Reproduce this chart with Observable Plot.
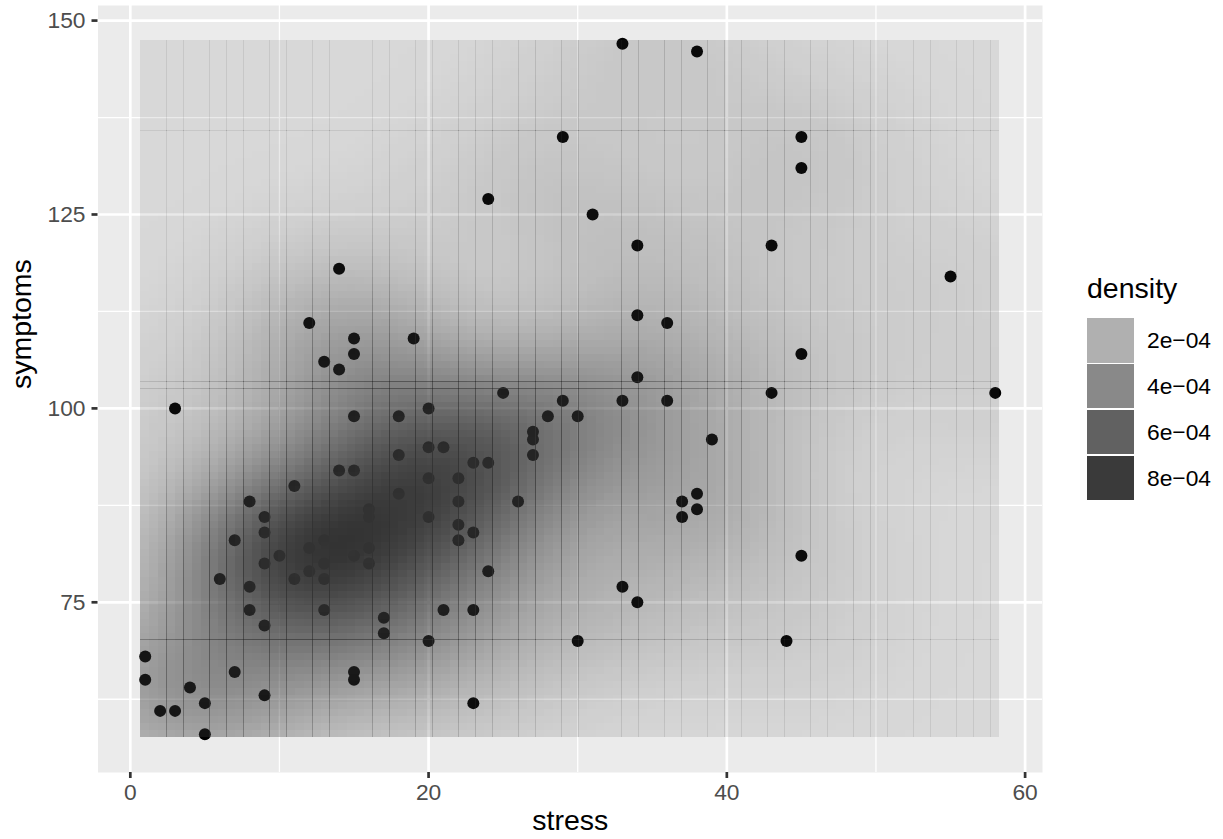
<!DOCTYPE html>
<html>
<head>
<meta charset="utf-8">
<script src="https://cdn.jsdelivr.net/npm/d3@7"></script>
<script src="https://cdn.jsdelivr.net/npm/@observablehq/plot@0.6"></script>
<style>
  body { margin: 0; background: #ffffff; font-family: "Liberation Sans", Arial, Helvetica, sans-serif; }
  #wrap { position: relative; width: 1223px; height: 839px; }
  #legend { position: absolute; left: 1087px; top: 270px; color: #000; }
  #legend .title { position: absolute; left: 0; top: 0; font-size: 28.5px; line-height: 36px; white-space: nowrap; }
  #legend .key { position: absolute; left: 0; width: 46.5px; height: 44.3px; background: #ebebeb; }
  #legend .key div { width: 100%; height: 100%; background: #333333; }
  #legend .lab { position: absolute; left: 60px; font-size: 22.8px; line-height: 44.3px; white-space: nowrap; }
</style>
</head>
<body>
<div id="wrap"></div>
<script>
// Observations: stress score and symptom score per respondent
const stress = [
  14, 12, 15, 19, 15, 13, 14, 3, 15, 18, 18, 14, 15, 11, 18, 8, 16, 16, 9, 9,
  7, 13, 12, 16, 15, 10, 13, 9, 16, 12, 6, 11, 13, 8, 8, 13, 17, 9, 17, 1,
  7, 15, 1, 15, 4, 9, 2, 3, 5, 5,
  33, 38, 29, 24, 31, 34, 34, 36, 34, 25, 29, 33, 36, 20, 28, 30, 27, 27, 39, 20,
  21, 27, 23, 24, 20, 22, 38, 22, 26, 37, 38, 20, 37, 22, 23, 22, 24, 33, 34, 21,
  23, 20, 30, 23,
  45, 45, 43, 55, 45, 43, 58, 45, 44
];
const symptoms = [
  118, 111, 109, 109, 107, 106, 105, 100, 99, 99, 94, 92, 92, 90, 89, 88, 87, 86, 86, 84,
  83, 83, 82, 82, 81, 81, 80, 80, 80, 79, 78, 78, 78, 77, 74, 74, 73, 72, 71, 68,
  66, 66, 65, 65, 64, 63, 61, 61, 62, 58,
  147, 146, 135, 127, 125, 121, 112, 111, 104, 102, 101, 101, 101, 100, 99, 99, 97, 96, 96, 95,
  95, 94, 93, 93, 91, 91, 89, 88, 88, 88, 87, 86, 86, 85, 84, 83, 79, 77, 75, 74,
  74, 70, 70, 62,
  135, 131, 121, 117, 107, 102, 102, 81, 70
];

// Axis ticks and grid positions
const xTicks = [0, 20, 40, 60];
const xMinor = [10, 30, 50];
const yTicks = [75, 100, 125, 150];
const yMinor = [62.5, 87.5, 112.5, 137.5];

// Legend breaks for the density scale
const densityBreaks = [2e-4, 4e-4, 6e-4, 8e-4];
const densityLabels = ["2e\u221204", "4e\u221204", "6e\u221204", "8e\u221204"];

const points = stress.map((s, i) => ({stress: s, symptoms: symptoms[i]}));

// 2D kernel density estimate on a 100 x 100 grid (normal-reference bandwidths)
function bandwidthNrd(v) {
  const s = d3.deviation(v);
  const iqr = (d3.quantile(v, 0.75) - d3.quantile(v, 0.25)) / 1.34;
  return 4 * 1.06 * Math.min(s, iqr) * Math.pow(v.length, -1 / 5);
}
const gridN = 100;
const [xMin, xMax] = d3.extent(stress);
const [yMin, yMax] = d3.extent(symptoms);
const hx = bandwidthNrd(stress) / 4;
const hy = bandwidthNrd(symptoms) / 4;
const dx = (xMax - xMin) / (gridN - 1);
const dy = (yMax - yMin) / (gridN - 1);
const nrm = z => Math.exp(-0.5 * z * z) / Math.sqrt(2 * Math.PI);
const cells = [];
for (let i = 0; i < gridN; i++) {
  const gx = xMin + i * dx;
  for (let j = 0; j < gridN; j++) {
    const gy = yMin + j * dy;
    let s = 0;
    for (const p of points) s += nrm((gx - p.stress) / hx) * nrm((gy - p.symptoms) / hy);
    cells.push({x: gx, y: gy, density: s / (points.length * hx * hy)});
  }
}
const densityExtent = d3.extent(cells, d => d.density);

// Scale limits: data range plus half a cell, expanded by 5% on each side
const xLo = xMin - dx / 2, xHi = xMax + dx / 2;
const yLo = yMin - dy / 2, yHi = yMax + dy / 2;
const xPad = 0.05 * (xHi - xLo), yPad = 0.05 * (yHi - yLo);

const font = '"Liberation Sans", Arial, Helvetica, sans-serif';

const chart = Plot.plot({
  width: 1223,
  height: 839,
  marginLeft: 97.5,
  marginRight: 181,
  marginTop: 5,
  marginBottom: 67,
  style: {fontFamily: font, background: "transparent", overflow: "visible"},
  x: {domain: [xLo - xPad, xHi + xPad]},
  y: {domain: [yLo - yPad, yHi + yPad]},
  opacity: {domain: densityExtent, range: [0.1, 1]},
  marks: [
    Plot.frame({fill: "#ebebeb", stroke: null}),
    Plot.ruleX(xMinor, {stroke: "#ffffff", strokeWidth: 1.3}),
    Plot.ruleY(yMinor, {stroke: "#ffffff", strokeWidth: 1.3}),
    Plot.ruleX(xTicks, {stroke: "#ffffff", strokeWidth: 2.7}),
    Plot.ruleY(yTicks, {stroke: "#ffffff", strokeWidth: 2.7}),
    Plot.dot(points, {x: "stress", y: "symptoms", r: 6, fill: "#000000", stroke: null}),
    // density raster, drawn over the points with opacity mapped to density
    Plot.rect(cells, {
      x1: d => d.x - dx / 2, x2: d => d.x + dx / 2,
      y1: d => d.y - dy / 2, y2: d => d.y + dy / 2,
      fill: "#333333",
      fillOpacity: {value: d => d.density, scale: "opacity"},
      insetRight: -0.4, insetTop: -0.03,
      shapeRendering: "crispEdges"
    }),
    Plot.axisX(xTicks, {tickSize: 6, tickPadding: 5, strokeWidth: 2.7, stroke: "#333333", fill: "#4d4d4d", fontSize: 22.8, label: null}),
    Plot.axisY(yTicks, {tickSize: 6, tickPadding: 6.5, strokeWidth: 2.7, stroke: "#333333", fill: "#4d4d4d", fontSize: 22.8, label: null}),
    Plot.text(["stress"], {frameAnchor: "bottom", dy: 57, fontSize: 28.5, fill: "#000000"}),
    Plot.text(["symptoms"], {frameAnchor: "left", dx: -76, rotate: -90, fontSize: 28.5, fill: "#000000"})
  ]
});

const wrap = document.getElementById("wrap");
wrap.appendChild(chart);

// Legend: keys shaded with the chart's own opacity scale
const opacityScale = chart.scale("opacity");
const toOpacity = opacityScale.apply ? opacityScale.apply : d3.scaleLinear(opacityScale.domain, opacityScale.range);
const legend = document.createElement("div");
legend.id = "legend";
const title = document.createElement("div");
title.className = "title";
title.textContent = "density";
legend.appendChild(title);
densityBreaks.forEach((b, i) => {
  const top = 48.3 + i * 45.8;
  const key = document.createElement("div");
  key.className = "key";
  key.style.top = top + "px";
  const fillDiv = document.createElement("div");
  fillDiv.style.opacity = toOpacity(b);
  key.appendChild(fillDiv);
  legend.appendChild(key);
  const lab = document.createElement("div");
  lab.className = "lab";
  lab.style.top = top + "px";
  lab.textContent = densityLabels[i];
  legend.appendChild(lab);
});
wrap.appendChild(legend);
</script>
</body>
</html>
